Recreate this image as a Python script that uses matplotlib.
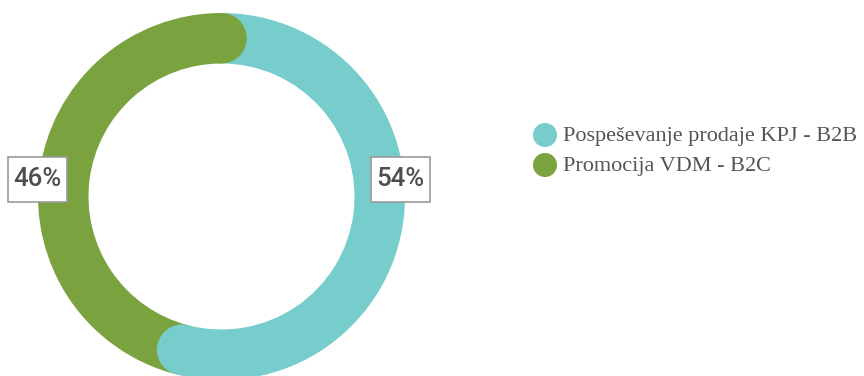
import matplotlib
matplotlib.use("Agg")
import matplotlib.pyplot as plt
from matplotlib.patches import Circle, Rectangle
import numpy as np

categories = ["Pospeševanje prodaje KPJ - B2B", "Promocija VDM - B2C"]
values = [54, 46]
labels = ["54%", "46%"]
colors = ["#77cccc", "#7aa33f"]

W, H = 864, 376
fig = plt.figure(figsize=(W / 100, H / 100), dpi=100)
ax = fig.add_axes([0, 0, 1, 1])

cx, cy = 221.5, H - 196.5
R = 183.5
width = 50.5

wedges, _ = ax.pie(values, colors=colors, startangle=90, counterclock=False,
                   center=(cx, cy), radius=R,
                   wedgeprops=dict(width=width, linewidth=0))

# rounded end caps: each segment's end cap overlaps the next segment's start
total = sum(values)
rm = R - width / 2
cum = 0
for v, c in zip(values, colors):
    cum += v
    ang = np.deg2rad(90 - 360 * cum / total)
    ax.add_patch(Circle((cx + rm * np.cos(ang), cy + rm * np.sin(ang)),
                        width / 2, facecolor=c, edgecolor="none", zorder=3))

# percentage labels in boxes
label_pos = [(400, H - 179.5), (37.5, H - 179.5)]
bw, bh = 59, 45
for (x, y), t in zip(label_pos, labels):
    ax.add_patch(Rectangle((x - bw / 2, y - bh / 2), bw, bh, facecolor="white",
                           edgecolor="#9a9a9a", linewidth=1.2, zorder=4))
    ax.text(x, y, t, ha="center", va="center", fontsize=18.5, family="Roboto",
            fontweight="medium", color="#4d4d4d", zorder=5)

# legend
leg_y = [H - 135, H - 165]
for y, name, c in zip(leg_y, categories, colors):
    ax.scatter([545], [y], s=300, color=c, edgecolors="none", zorder=5)
    ax.text(563, y - 1, name, ha="left", va="center", fontsize=16,
            family="Liberation Serif", color="#555555")

ax.set_xlim(0, W)
ax.set_ylim(0, H)
ax.set_aspect("equal")
ax.axis("off")
fig.savefig("out.png", dpi=100)
